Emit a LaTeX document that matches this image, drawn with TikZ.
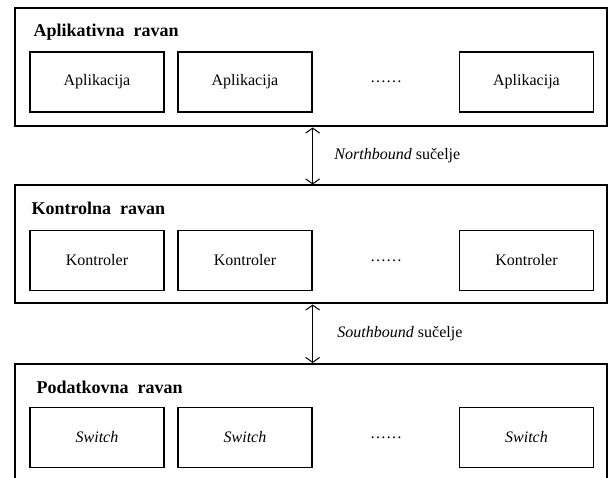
\documentclass[tikz,border=0pt]{standalone}
\usepackage{fontspec}
\setmainfont{Liberation Serif}
\usetikzlibrary{positioning,arrows.meta}

\begin{document}
\begin{tikzpicture}[x=1pt, y=-1pt]
        \tikzset{
            ravan/.style={draw, line width=2pt, minimum width=592pt, minimum height=118pt},
            blok/.style={draw, line width=1.3pt, minimum width=134pt, minimum height=60pt,
                font=\fontsize{16}{18}\selectfont},
            tacke/.style={font=\fontsize{16}{18}\selectfont},
            naslov/.style={anchor=base west, font=\fontsize{18}{20}\selectfont\bfseries},
            oznaka/.style={font=\fontsize{16}{18}\selectfont},
            veza/.style={{Straight Barb[length=5pt,width=14pt]}-{Straight Barb[length=5pt,width=14pt]},
                line width=1pt}
        }
        \useasboundingbox (0, 0) rectangle (608, 478);

        % aplikativna ravan
        \begin{scope}
            \node[ravan] (AR) at (311, 67.5) {};
            \node[naslov] (AT) at (30, 37) {Aplikativna\ \ ravan};
            \node[blok] (A1) at (97, 82) {Aplikacija};
            \node[blok] (A2) at (245, 82) {Aplikacija};
            \node[tacke] (A3) at (386, 82) {\dots\dots};
            \node[blok] (A4) at (526.5, 82) {Aplikacija};
        \end{scope}

        % kontrolna ravan
        \begin{scope}
            \node[ravan] (KR) at (311, 244.5) {};
            \node[naslov] (KT) at (28, 215) {Kontrolna\ \ ravan};
            \node[blok] (K1) at (97, 260.5) {Kontroler};
            \node[blok] (K2) at (245, 260.5) {Kontroler};
            \node[tacke] (K3) at (386, 260.5) {\dots\dots};
            \node[blok] (K4) at (526.5, 260.5) {Kontroler};
        \end{scope}

        % podatkovna ravan
        \begin{scope}
            \node[ravan] (PR) at (311, 423) {};
            \node[naslov] (PT) at (33, 393) {Podatkovna\ \ ravan};
            \node[blok] (S1) at (97, 437.5) {\textit{Switch}};
            \node[blok] (S2) at (245, 437.5) {\textit{Switch}};
            \node[tacke] (S3) at (386, 437.5) {\dots\dots};
            \node[blok] (S4) at (526.5, 437.5) {\textit{Switch}};
        \end{scope}

        \begin{scope}
            \draw[veza] (AR.south -| A2.east) -- node[oznaka, right=18pt] (NB)
                {\textit{Northbound} sučelje} (KR.north -| A2.east);
            \draw[veza] (KR.south -| K2.east) -- node[oznaka, right=21pt] (SB)
                {\textit{Southbound} sučelje} (PR.north -| K2.east);
        \end{scope}

\end{tikzpicture}
\end{document}
